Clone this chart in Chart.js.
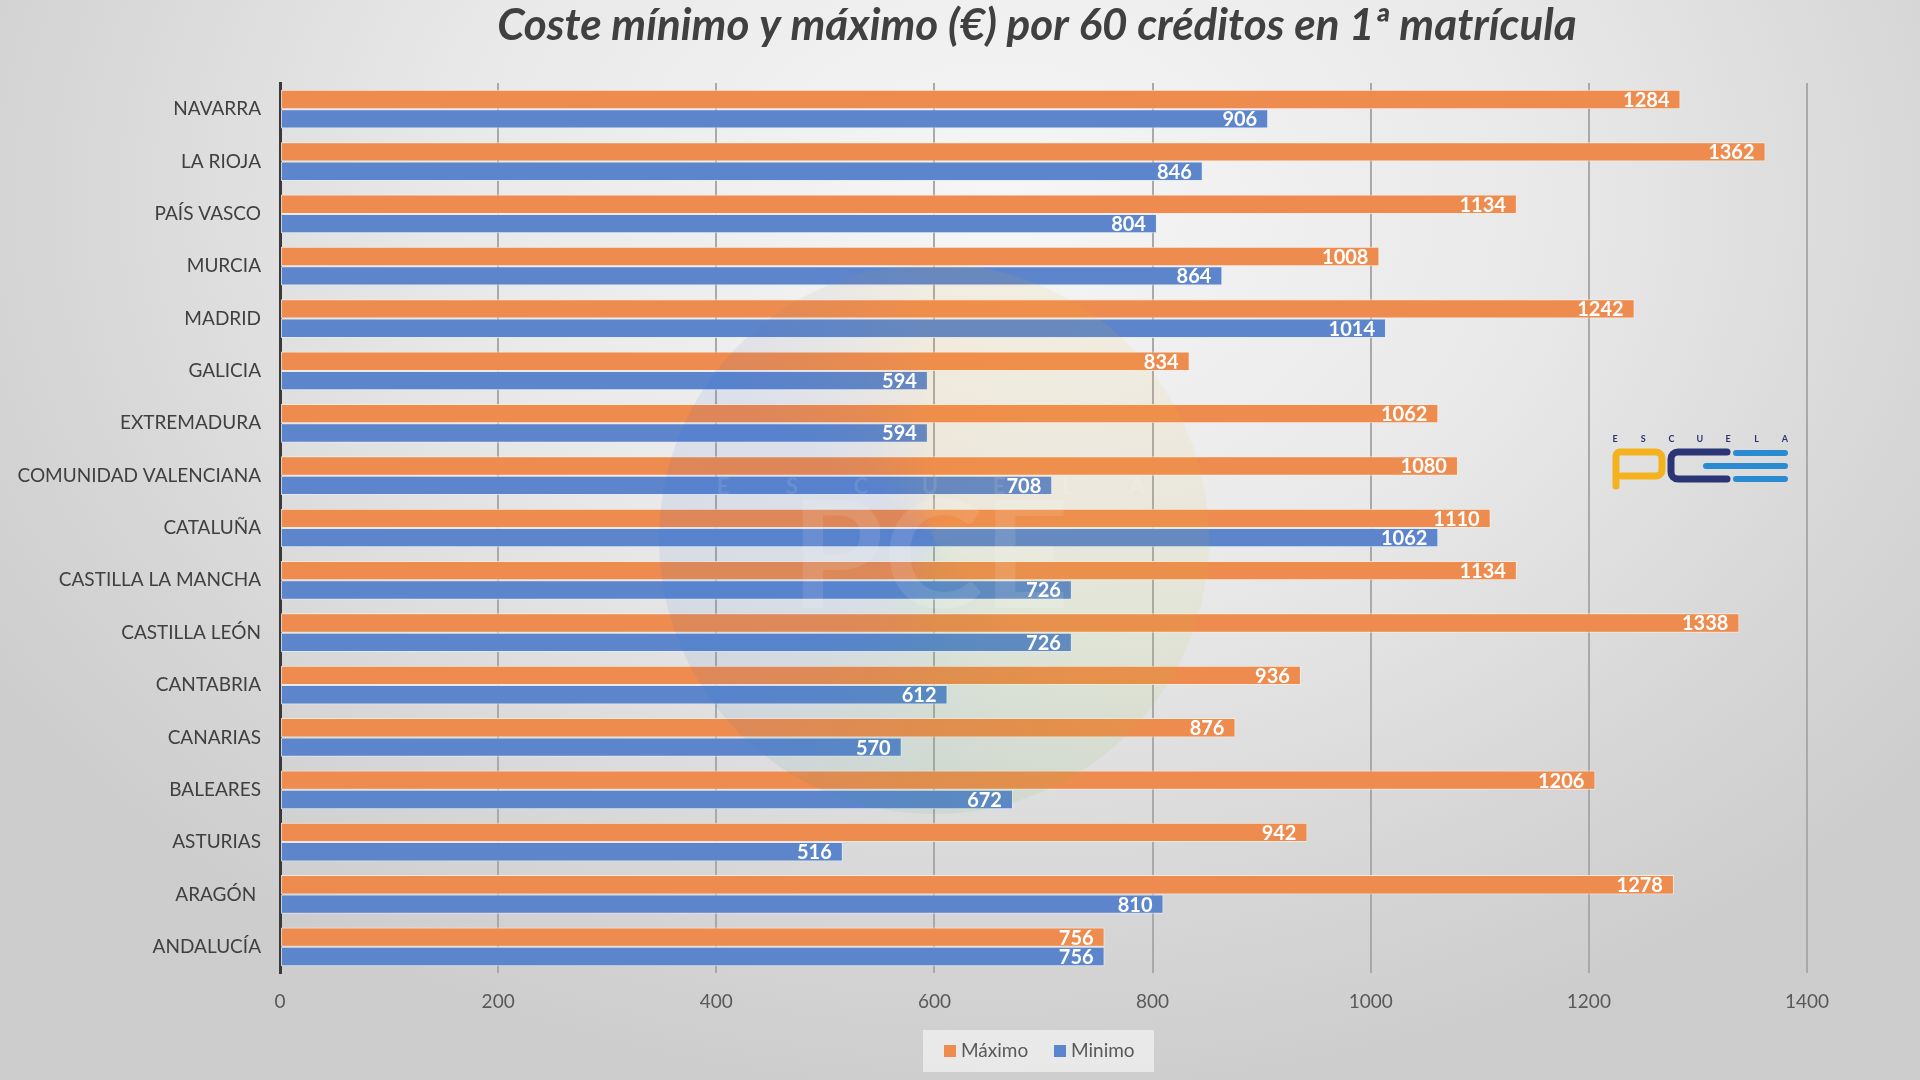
<!DOCTYPE html>
<html>
<head>
<meta charset="utf-8">
<script src="https://cdn.jsdelivr.net/npm/chart.js@4/dist/chart.umd.min.js"></script>
<style>
  html, body { margin: 0; padding: 0; }
  body {
    width: 1920px; height: 1080px; overflow: hidden;
    background: radial-gradient(ellipse 1200px 900px at 1000px 200px, #f6f6f6 0%, #e9e9e9 45%, #d6d6d6 80%, #cdcdcd 100%);
  }
  #wrap { position: relative; width: 1920px; height: 1080px; }
  canvas { display: block; }
</style>
</head>
<body>
<div id="wrap"><canvas id="c" width="1920" height="1080"></canvas></div>
<script>
const titleText = 'Coste mínimo y máximo (€) por 60 créditos en 1ª matrícula';
const categories = ['NAVARRA', 'LA RIOJA', 'PAÍS VASCO', 'MURCIA', 'MADRID', 'GALICIA', 'EXTREMADURA',
  'COMUNIDAD VALENCIANA', 'CATALUÑA', 'CASTILLA LA MANCHA', 'CASTILLA LEÓN', 'CANTABRIA', 'CANARIAS',
  'BALEARES', 'ASTURIAS', 'ARAGÓN ', 'ANDALUCÍA'];
const maximo = [1284, 1362, 1134, 1008, 1242, 834, 1062, 1080, 1110, 1134, 1338, 936, 876, 1206, 942, 1278, 756];
const minimo = [906, 846, 804, 864, 1014, 594, 594, 708, 1062, 726, 726, 612, 570, 672, 516, 810, 756];
const seriesNames = ['Máximo', 'Minimo'];
const xMin = 0, xMax = 1400, xStep = 200;

const ORANGE = '#ee8b4e';
const BLUE = '#5c85cc';

const decorPlugin = {
  id: 'decor',
  beforeDraw(chart) {
    const ctx = chart.ctx;
    // title
    ctx.save();
    ctx.fillStyle = '#404040';
    ctx.font = 'italic bold 44px Lato';
    ctx.textAlign = 'center';
    ctx.textBaseline = 'alphabetic';
    ctx.fillText(titleText, 1037, 40);
    ctx.restore();
    // legend
    ctx.save();
    ctx.fillStyle = 'rgba(235,235,235,0.9)';
    ctx.fillRect(923, 1030, 231, 42);
    ctx.font = '19px Lato';
    ctx.textBaseline = 'middle';
    ctx.textAlign = 'left';
    ctx.fillStyle = ORANGE;
    ctx.fillRect(944, 1045, 12, 12);
    ctx.fillStyle = '#595959';
    ctx.fillText(seriesNames[0], 961, 1051);
    ctx.fillStyle = BLUE;
    ctx.fillRect(1054, 1045, 12, 12);
    ctx.fillStyle = '#595959';
    ctx.fillText(seriesNames[1], 1071, 1051);
    ctx.restore();
    // logo right
    ctx.save();
    ctx.fillStyle = '#2b3470';
    ctx.font = 'bold 9px Lato';
    ctx.textBaseline = 'middle';
    ctx.textAlign = 'center';
    const letters = 'ESCUELA';
    for (let i = 0; i < letters.length; i++) {
      ctx.fillText(letters[i], 1615 + i * 28.3, 439);
    }
    ctx.lineCap = 'round';
    ctx.lineJoin = 'round';
    ctx.strokeStyle = '#f5b21f';
    ctx.lineWidth = 7;
    ctx.beginPath();
    ctx.moveTo(1616, 486);
    ctx.lineTo(1616, 456);
    ctx.arcTo(1616, 452, 1622, 452, 4);
    ctx.lineTo(1656, 452);
    ctx.arcTo(1662, 452, 1662, 458, 6);
    ctx.lineTo(1662, 470);
    ctx.arcTo(1662, 476, 1656, 476, 6);
    ctx.lineTo(1622, 476);
    ctx.stroke();
    ctx.strokeStyle = '#2b3576';
    ctx.beginPath();
    ctx.moveTo(1727, 452);
    ctx.lineTo(1678, 452);
    ctx.arcTo(1671, 452, 1671, 459, 7);
    ctx.lineTo(1671, 472);
    ctx.arcTo(1671, 479, 1678, 479, 7);
    ctx.lineTo(1727, 479);
    ctx.stroke();
    ctx.strokeStyle = '#2a8bd2';
    ctx.lineWidth = 6;
    ctx.beginPath();
    ctx.moveTo(1736, 453); ctx.lineTo(1785, 453);
    ctx.moveTo(1706, 466); ctx.lineTo(1785, 466);
    ctx.moveTo(1736, 479); ctx.lineTo(1785, 479);
    ctx.stroke();
    ctx.restore();
  },
  afterDatasetsDraw(chart) {
    const ctx = chart.ctx;
    // faint watermark
    ctx.save();
    ctx.globalAlpha = 0.085;
    const cx = 934, cy = 539, r = 275;
    let g;
    if (ctx.createConicGradient) {
      g = ctx.createConicGradient(-Math.PI / 2, cx, cy);
      g.addColorStop(0, '#f5b21f');
      g.addColorStop(0.2, '#f0c040');
      g.addColorStop(0.35, '#9acd32');
      g.addColorStop(0.5, '#3fae49');
      g.addColorStop(0.65, '#2a6fd2');
      g.addColorStop(0.85, '#2a5bd2');
      g.addColorStop(1, '#f5b21f');
    } else {
      g = '#5c85cc';
    }
    ctx.fillStyle = g;
    ctx.beginPath();
    ctx.arc(cx, cy, r, 0, Math.PI * 2);
    ctx.fill();
    ctx.globalAlpha = 0.1;
    ctx.fillStyle = '#ffffff';
    ctx.font = 'bold 22px Lato';
    ctx.textAlign = 'center';
    ctx.textBaseline = 'middle';
    for (let i = 0; i < 7; i++) ctx.fillText('ESCUELA'[i], 723 + i * 69, 487);
    ctx.font = 'bold 150px Lato';
    ctx.fillText('PCE', 930, 560);
    ctx.restore();

    // data labels
    ctx.save();
    ctx.font = 'bold 20px Lato';
    ctx.fillStyle = '#ffffff';
    ctx.textAlign = 'right';
    ctx.textBaseline = 'middle';
    chart.data.datasets.forEach((ds, di) => {
      const meta = chart.getDatasetMeta(di);
      meta.data.forEach((bar, i) => {
        ctx.fillText(String(ds.data[i]), bar.x - 11, bar.y + 1);
      });
    });
    ctx.restore();
  }
};

new Chart(document.getElementById('c'), {
  type: 'bar',
  data: {
    labels: categories,
    datasets: [
      { label: seriesNames[0], data: maximo, backgroundColor: ORANGE, borderColor: 'rgba(255,235,220,0.85)', borderWidth: 1, borderSkipped: false },
      { label: seriesNames[1], data: minimo, backgroundColor: BLUE, borderColor: 'rgba(225,235,250,0.85)', borderWidth: 1, borderSkipped: false }
    ]
  },
  options: {
    indexAxis: 'y',
    responsive: false,
    devicePixelRatio: 1,
    animation: false,
    layout: { padding: { top: 83, bottom: 67, left: 0, right: 113 } },
    datasets: { bar: { categoryPercentage: 0.74, barPercentage: 1.0 } },
    plugins: {
      legend: { display: false },
      title: { display: false },
      tooltip: { enabled: false }
    },
    scales: {
      x: {
        type: 'linear',
        min: xMin, max: xMax,
        afterFit(s) { s.height = 40; },
        ticks: { stepSize: xStep, color: '#595959', font: { family: 'Lato', size: 19 }, padding: 17,
          callback: (v) => String(v) },
        grid: {
          drawTicks: false,
          color: (c) => c.tick && c.tick.value === 0 ? 'rgba(0,0,0,0)' : '#a9a9a9',
          lineWidth: 2
        },
        border: { display: false }
      },
      y: {
        type: 'category',
        afterFit(s) { s.width = 280; },
        ticks: { color: '#404040', font: { family: 'Lato', size: 19 }, padding: 19 },
        grid: { display: false, drawTicks: false },
        border: { display: true, color: '#3a3a3a', width: 3 }
      }
    }
  },
  plugins: [decorPlugin]
});
</script>
</body>
</html>
